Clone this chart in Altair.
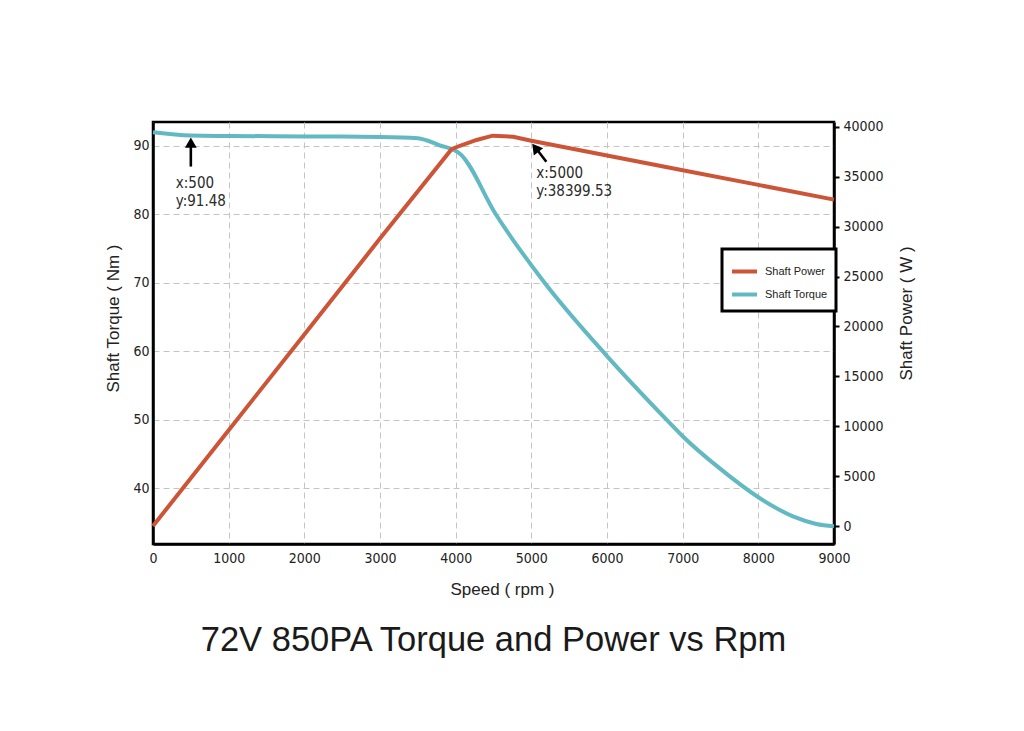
import altair as alt
import pandas as pd

# ---- data ----
rpm_torque = [0, 500, 1000, 2000, 3000, 3500, 3780, 4060, 4530, 5175, 6000,
              6806, 7000, 7490, 8000, 8458, 8766, 9000]
torque_nm = [91.95, 91.48, 91.42, 91.36, 91.28, 91.10, 90.10, 88.80, 80.0,
             70.0, 59.3, 49.8, 47.6, 42.9, 38.7, 35.9, 34.8, 34.45]

rpm_power = [0, 1000, 2000, 3000, 3946, 4056, 4276, 4490, 4760, 5000, 6000,
             7000, 8000, 9000]
power_w = [0, 9600, 19200, 28800, 37750, 38100, 38680, 39110, 39000, 38600,
           37130, 35650, 34180, 32700]

series_names = ["Shaft Power", "Shaft Torque"]
series_colors = ["#cd5537", "#62b9c1"]

x_ticks = [0, 1000, 2000, 3000, 4000, 5000, 6000, 7000, 8000, 9000]
torque_ticks = [40, 50, 60, 70, 80, 90]
power_ticks = [0, 5000, 10000, 15000, 20000, 25000, 30000, 35000, 40000]

torque_note_rpm = [500]
torque_note_val = [91.48]
power_note_rpm = [5000]
power_note_val = [38399.53]

title_text = "72V 850PA Torque and Power vs Rpm"

NARROW = "Liberation Sans Narrow, DejaVu Sans Condensed, Roboto Condensed, Arial Narrow, sans-serif"
SANS = "Liberation Sans, Arial, Helvetica, sans-serif"

# ---- tables ----
torque_df = pd.DataFrame({"rpm": rpm_torque, "value": torque_nm,
                          "series": series_names[1]})
power_df = pd.DataFrame({"rpm": rpm_power, "value": power_w,
                         "series": series_names[0]})


def notes(rpms, vals):
    return pd.DataFrame({
        "rpm": rpms,
        "value": vals,
        "label": [f"x:{r}\ny:{v}" for r, v in zip(rpms, vals)],
    })


t_notes = notes(torque_note_rpm, torque_note_val)
p_notes = notes(power_note_rpm, power_note_val)

# ---- scales / encodings (identical objects in every sub-layer) ----
x_scale = alt.Scale(domain=[0, 9000], nice=False, zero=False)
t_scale = alt.Scale(domain=[31.87, 93.46], nice=False, zero=False)
p_scale = alt.Scale(domain=[-1800, 40480], nice=False, zero=False)

x_enc = alt.X("rpm:Q", scale=x_scale,
              axis=alt.Axis(title="Speed ( rpm )", values=x_ticks, format="d",
                            grid=True, ticks=False, labelPadding=7,
                            labelFlush=False, titleX=349, titleY=45,
                            titleBaseline="middle"))
y_t = alt.Y("value:Q", scale=t_scale,
            axis=alt.Axis(title="Shaft Torque ( Nm )", values=torque_ticks,
                          grid=True, ticks=False, labelPadding=4,
                          titleX=-40, titleY=196, titleAngle=270,
                          titleBaseline="middle"))
y_p = alt.Y("value:Q", scale=p_scale,
            axis=alt.Axis(orient="right", title="Shaft Power ( W )",
                          values=power_ticks, format="d", grid=False,
                          tickSize=5, tickWidth=2, labelPadding=4,
                          titleX=72, titleY=191, titleAngle=270,
                          titleBaseline="middle"))

color_enc = alt.Color(
    "series:N",
    scale=alt.Scale(domain=series_names, range=series_colors),
    legend=alt.Legend(title=None, orient="none", legendX=569, legendY=127,
                      symbolType="stroke", symbolSize=625,
                      symbolStrokeWidth=4, labelFont=SANS, labelFontSize=11,
                      labelColor="#222", labelOffset=6, rowPadding=0,
                      padding=8, strokeColor="black", fillColor="white"),
)

# ---- torque (left axis) ----
t_line = alt.Chart(torque_df).mark_line(strokeWidth=4, interpolate="monotone").encode(
    x=x_enc, y=y_t, color=color_enc)
t_shaft = alt.Chart(t_notes).mark_rule(color="black", strokeWidth=2.6,
                                       yOffset=8, y2Offset=31).encode(
    x=x_enc, y=y_t, y2="value:Q")
t_head = alt.Chart(t_notes).mark_point(shape="triangle-up", filled=True,
                                       size=140, color="black", opacity=1,
                                       yOffset=7).encode(x=x_enc, y=y_t)
t_text = alt.Chart(t_notes).mark_text(align="left", baseline="top", dx=-15,
                                      dy=40, lineBreak="\n", lineHeight=18,
                                      font=NARROW, fontSize=15,
                                      color="#2a2a2a").encode(
    x=x_enc, y=y_t, text="label:N")

torque_layer = alt.layer(t_line, t_shaft, t_head, t_text)

# ---- power (right axis) ----
p_line = alt.Chart(power_df).mark_line(strokeWidth=4).encode(
    x=x_enc, y=y_p, color=color_enc)
p_shaft = alt.Chart(p_notes).mark_rule(color="black", strokeWidth=2.6,
                                       xOffset=5, yOffset=6,
                                       x2Offset=15, y2Offset=19).encode(
    x=x_enc, x2="rpm:Q", y=y_p, y2="value:Q")
p_head = alt.Chart(p_notes).mark_point(shape="triangle-up", filled=True,
                                       size=140, color="black", opacity=1,
                                       angle=322, xOffset=4, yOffset=5).encode(
    x=x_enc, y=y_p)
p_text = alt.Chart(p_notes).mark_text(align="left", baseline="top", dx=5,
                                      dy=23, lineBreak="\n", lineHeight=18,
                                      font=NARROW, fontSize=15,
                                      color="#2a2a2a").encode(
    x=x_enc, y=y_p, text="label:N")

power_layer = alt.layer(p_line, p_shaft, p_head, p_text)

chart = alt.layer(torque_layer, power_layer).resolve_scale(
    y="independent"
).properties(
    width=681,
    height=422,
    title=alt.TitleParams(text=title_text, orient="bottom", anchor="middle",
                          font=SANS, fontSize=34.5, fontWeight="normal",
                          color="#1a1a1a", offset=27),
    autosize=alt.AutoSizeParams(type="none"),
    padding={"left": 145, "top": 114, "right": 182, "bottom": 160},
    background="white",
).configure_axis(
    labelFont=NARROW, labelFontSize=14, labelColor="#222",
    titleFont=SANS, titleFontSize=17, titleFontWeight="normal",
    titleColor="#222", domainColor="black", domainWidth=2.5,
    tickColor="black", gridColor="#c4c4c4", gridDash=[6, 4], gridWidth=1,
).configure_view(
    stroke="black", strokeWidth=2.5,
).configure_legend(
    strokeWidth=3,
)

chart.save("out.html", embed_options={"renderer": "svg", "actions": False})
